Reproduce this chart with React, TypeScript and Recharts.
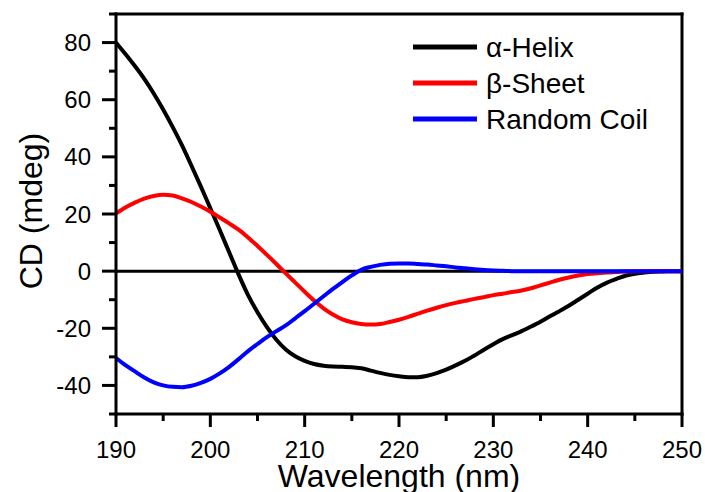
import React from 'react';
import { LineChart, Line, XAxis, YAxis, CartesianGrid, Legend, ReferenceLine } from 'recharts';

const wavelengths = [
  190, 191, 192, 193, 194, 195, 196, 197, 198, 199,
  200, 201, 202, 203, 204, 205, 206, 207, 208, 209,
  210, 211, 212, 213, 214, 215, 216, 217, 218, 219,
  220, 221, 222, 223, 224, 225, 226, 227, 228, 229,
  230, 231, 232, 233, 234, 235, 236, 237, 238, 239,
  240, 241, 242, 243, 244, 245, 246, 247, 248, 249, 250,
];
const alphaHelix = [
  80, 76, 71.8, 67.3, 62.2, 56.6, 50.5, 44, 36.9, 29.6,
  22, 14.4, 6.6, -1.2, -8.4, -14.4, -19.6, -24, -27.4, -29.8,
  -31.4, -32.5, -33.1, -33.4, -33.5, -33.6, -34, -34.8, -35.6, -36.3,
  -36.8, -37.1, -37.1, -36.6, -35.7, -34.5, -33, -31.4, -29.5, -27.5,
  -25.6, -23.8, -22.4, -21, -19.4, -17.7, -15.8, -14, -12.1, -10,
  -7.9, -5.8, -4.1, -2.8, -1.6, -0.9, -0.5, -0.2, -0.1, 0, 0,
];
const betaSheet = [
  20.2, 22.3, 24, 25.4, 26.3, 26.7, 26.5, 25.5, 24.2, 22.6,
  20.8, 18.8, 16.7, 14.5, 11.8, 8.8, 5.7, 2.5, -0.8, -4,
  -7.2, -10.3, -13, -15.2, -16.9, -17.9, -18.5, -18.7, -18.5, -17.8,
  -17, -16, -14.9, -13.8, -12.8, -11.9, -11.1, -10.4, -9.7, -9.1,
  -8.4, -7.9, -7.3, -6.8, -6, -5, -4, -3, -2.2, -1.5,
  -1, -0.7, -0.5, -0.3, -0.15, -0.05, 0, 0, 0, 0, 0,
];
const randomCoil = [
  -30.4, -32.9, -35.1, -37.2, -38.9, -40, -40.5, -40.6, -40.1, -39.1,
  -37.7, -35.8, -33.5, -30.8, -28, -25.5, -23.1, -21, -19, -16.5,
  -14, -11.4, -8.8, -6.2, -3.8, -1.5, 0.5, 1.5, 2.2, 2.6,
  2.7, 2.7, 2.5, 2.3, 2, 1.7, 1.3, 1, 0.7, 0.4,
  0.2, 0.1, 0, 0, 0, 0, 0, 0, 0, 0,
  0, 0, 0, 0, 0, 0, 0, 0, 0, 0, 0,
];

const xTicks = [190, 195, 200, 205, 210, 215, 220, 225, 230, 235, 240, 245, 250];
const yTicks = [-50, -40, -30, -20, -10, 0, 10, 20, 30, 40, 50, 60, 70, 80, 90];
const seriesNames = ['α-Helix', 'β-Sheet', 'Random Coil'];
const seriesKeys = ['alpha', 'beta', 'coil'];
const seriesColors = ['#000000', '#ff0000', '#0000ff'];

const data = wavelengths.map((w, i) => ({
  w,
  alpha: alphaHelix[i],
  beta: betaSheet[i],
  coil: randomCoil[i],
}));

const FONT = '"Liberation Sans", Arial, sans-serif';

const XTick = (props: any) => {
  const { x, y, payload } = props;
  const major = payload.value % 10 === 0;
  return (
    <g>
      <line x1={x} x2={x} y1={y} y2={y + (major ? 13 : 7)} stroke="#000" strokeWidth={3} />
      {major && (
        <text x={x} y={y + 44} textAnchor="middle" fontSize={24} fontFamily={FONT} fill="#000">
          {payload.value}
        </text>
      )}
    </g>
  );
};

const YTick = (props: any) => {
  const { x, y, payload } = props;
  const major = payload.value % 20 === 0 && payload.value >= -40 && payload.value <= 80;
  return (
    <g>
      <line x1={x - (major ? 14 : 7)} x2={x} y1={y} y2={y} stroke="#000" strokeWidth={3} />
      {major && (
        <text x={x - 25} y={y + 8.5} textAnchor="end" fontSize={24} fontFamily={FONT} fill="#000">
          {payload.value}
        </text>
      )}
    </g>
  );
};

const XTitle = () => (
  <text x={399} y={487} textAnchor="middle" fontSize={32} fontFamily={FONT} fill="#000">
    Wavelength (nm)
  </text>
);

const YTitle = () => (
  <text
    x={31}
    y={211}
    textAnchor="middle"
    dominantBaseline="central"
    fontSize={32}
    fontFamily={FONT}
    fill="#000"
    transform="rotate(-90, 31, 211)"
  >
    CD (mdeg)
  </text>
);

const LegendContent = () => (
  <svg width={280} height={115} style={{ display: 'block' }}>
    {seriesNames.map((name, i) => (
      <g key={name}>
        <line x1={8} x2={72} y1={22 + i * 36} y2={22 + i * 36} stroke={seriesColors[i]} strokeWidth={5} />
        <text x={81} y={22 + i * 36 + 10} fontSize={28} fontFamily={FONT} fill="#000">
          {name}
        </text>
      </g>
    ))}
  </svg>
);

export default function App() {
  return (
    <div style={{ position: 'absolute', left: 0, top: 0, background: '#fff' }}>
      <LineChart width={705} height={492} data={data} margin={{ top: 14, right: 23, left: 0, bottom: 0 }}>
        <CartesianGrid
          horizontal={true}
          vertical={false}
          horizontalValues={[0]}
          stroke="#000"
          strokeWidth={3}
          strokeDasharray=""
        />
        <XAxis
          dataKey="w"
          type="number"
          domain={[190, 250]}
          ticks={xTicks}
          interval={0}
          height={78}
          tickSize={0}
          tickMargin={0}
          tickLine={false}
          tick={<XTick />}
          axisLine={{ stroke: '#000', strokeWidth: 3, strokeLinecap: 'square' }}
          label={<XTitle />}
        />
        <YAxis
          type="number"
          domain={[-50, 90]}
          ticks={yTicks}
          interval={0}
          width={116}
          tickSize={0}
          tickMargin={0}
          tickLine={false}
          tick={<YTick />}
          axisLine={{ stroke: '#000', strokeWidth: 3, strokeLinecap: 'square' }}
          label={<YTitle />}
        />
        <ReferenceLine y={90} stroke="#000" strokeWidth={3} strokeLinecap="square" />
        <ReferenceLine x={250} stroke="#000" strokeWidth={3} strokeLinecap="square" />
        {seriesKeys.map((k, i) => (
          <Line
            key={k}
            dataKey={k}
            name={seriesNames[i]}
            type="monotone"
            stroke={seriesColors[i]}
            strokeWidth={4}
            dot={false}
            activeDot={false}
            isAnimationActive={false}
          />
        ))}
        <Legend
          layout="vertical"
          align="center"
          verticalAlign="middle"
          content={<LegendContent />}
          wrapperStyle={{ position: 'absolute', left: 405, top: 25, width: 280, height: 115 }}
        />
      </LineChart>
    </div>
  );
}
